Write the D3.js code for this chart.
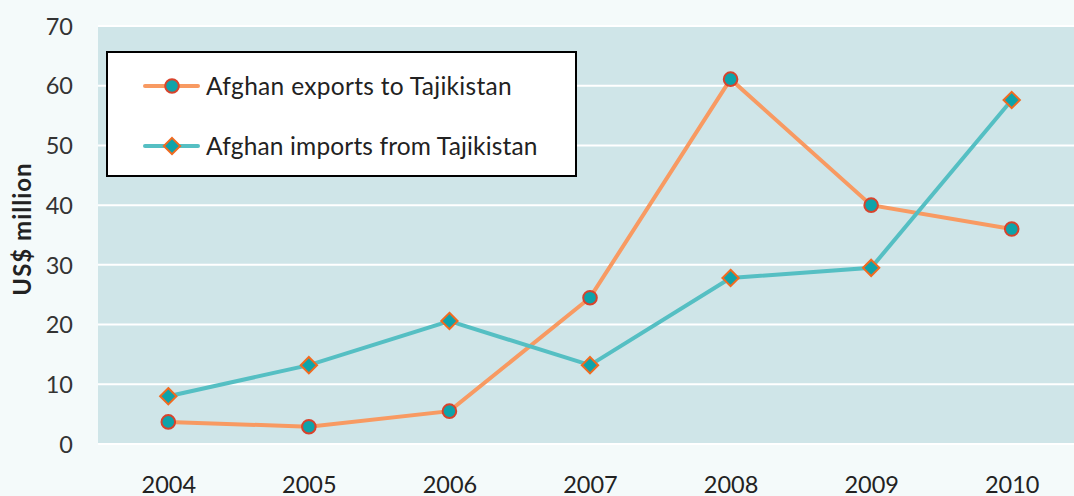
<!DOCTYPE html>
<html>
<head>
<meta charset="utf-8">
<script src="https://cdn.jsdelivr.net/npm/d3@7"></script>
<style>
  body { margin: 0; background: #f4fafa; }
  svg { display: block; font-family: Lato, "Open Sans", sans-serif; }
</style>
</head>
<body>
<div id="chart"></div>
<script>
// Chart data
const years = ['2004', '2005', '2006', '2007', '2008', '2009', '2010'];
const exportsToTaj = [3.7, 2.9, 5.5, 24.5, 61.1, 40.0, 36.0];
const importsFromTaj = [8.0, 13.2, 20.6, 13.2, 27.8, 29.5, 57.6];
const yTicks = [0, 10, 20, 30, 40, 50, 60, 70];
const seriesNames = ['Afghan exports to Tajikistan', 'Afghan imports from Tajikistan'];

const width = 1074;
const height = 496;
const plot = { left: 98, right: 1082, top: 26, bottom: 444 };

const svg = d3.select('#chart').append('svg')
    .attr('width', width)
    .attr('height', height);

// Scales
const x = d3.scalePoint()
    .domain(years)
    .range([plot.left, plot.right])
    .padding(0.5);

const y = d3.scaleLinear()
    .domain([0, 70])
    .range([plot.bottom, plot.top]);

// Plot background
svg.append('rect')
    .attr('x', plot.left)
    .attr('y', plot.top)
    .attr('width', plot.right - plot.left)
    .attr('height', plot.bottom - plot.top)
    .attr('fill', '#cfe5e8');

// Gridlines
svg.append('g')
    .selectAll('line')
    .data(yTicks)
    .enter().append('line')
    .attr('x1', plot.left)
    .attr('x2', plot.right)
    .attr('y1', d => y(d))
    .attr('y2', d => y(d))
    .attr('stroke', '#ffffff')
    .attr('stroke-width', 2);

// Y axis labels
const yAxis = svg.append('g')
    .attr('transform', `translate(${plot.left - 25},0)`)
    .call(d3.axisLeft(y).tickValues(yTicks).tickSize(0).tickPadding(0));
yAxis.select('.domain').remove();
yAxis.selectAll('text')
    .attr('font-size', 23.5)
    .attr('font-family', 'Lato, sans-serif')
    .attr('fill', '#333')
    .attr('dy', '0.35em');

// X axis labels (bottom edge crops them, as in the source)
const xAxis = svg.append('g')
    .attr('transform', `translate(0,${plot.bottom + 32})`)
    .call(d3.axisBottom(x).tickSize(0).tickPadding(0));
xAxis.select('.domain').remove();
xAxis.selectAll('text')
    .attr('font-size', 23.5)
    .attr('font-family', 'Lato, sans-serif')
    .attr('fill', '#222')
    .attr('dy', '0.71em');

// Y axis title
svg.append('text')
    .attr('transform', `translate(31,${(plot.top + plot.bottom) / 2 - 6}) rotate(-90)`)
    .attr('text-anchor', 'middle')
    .attr('font-size', 24)
    .attr('font-weight', 'bold')
    .attr('letter-spacing', 1)
    .attr('fill', '#222')
    .text('US$ million');

// Lines
const line = d3.line()
    .x((d, i) => x(years[i]))
    .y(d => y(d));

svg.append('path')
    .datum(exportsToTaj)
    .attr('d', line)
    .attr('fill', 'none')
    .attr('stroke', '#f89a62')
    .attr('stroke-width', 4);

svg.append('path')
    .datum(importsFromTaj)
    .attr('d', line)
    .attr('fill', 'none')
    .attr('stroke', '#55bfc3')
    .attr('stroke-width', 4);

const diamond = d3.symbol().type(d3.symbolDiamond2).size(170);

function drawCircle(g, cx, cy) {
    g.append('circle')
        .attr('cx', cx)
        .attr('cy', cy)
        .attr('r', 6.8)
        .attr('fill', '#0ea3aa')
        .attr('stroke', '#d8432c')
        .attr('stroke-width', 2);
}

function drawDiamond(g, cx, cy) {
    g.append('path')
        .attr('d', diamond)
        .attr('transform', `translate(${cx},${cy})`)
        .attr('fill', '#0ea3aa')
        .attr('stroke', '#f26a1f')
        .attr('stroke-width', 2);
}

const markers = svg.append('g');
importsFromTaj.forEach((v, i) => drawDiamond(markers, x(years[i]), y(v)));
exportsToTaj.forEach((v, i) => drawCircle(markers, x(years[i]), y(v)));

// Legend
const legend = svg.append('g');
legend.append('rect')
    .attr('x', 107)
    .attr('y', 52)
    .attr('width', 469)
    .attr('height', 124)
    .attr('fill', '#ffffff')
    .attr('stroke', '#000')
    .attr('stroke-width', 2);

const legendRows = [
    { name: seriesNames[0], color: '#f89a62', y: 86, marker: drawCircle, spacing: 0.3 },
    { name: seriesNames[1], color: '#55bfc3', y: 146, marker: drawDiamond, spacing: 0.15 }
];

legendRows.forEach(r => {
    legend.append('line')
        .attr('x1', 145)
        .attr('x2', 198)
        .attr('y1', r.y)
        .attr('y2', r.y)
        .attr('stroke', r.color)
        .attr('stroke-width', 4)
        .attr('stroke-linecap', 'round');
    r.marker(legend, 172, r.y);
    legend.append('text')
        .attr('x', 206)
        .attr('y', r.y)
        .attr('dy', '0.35em')
        .attr('font-size', 24.5)
        .attr('letter-spacing', r.spacing)
        .attr('fill', '#222')
        .text(r.name);
});
</script>
</body>
</html>
